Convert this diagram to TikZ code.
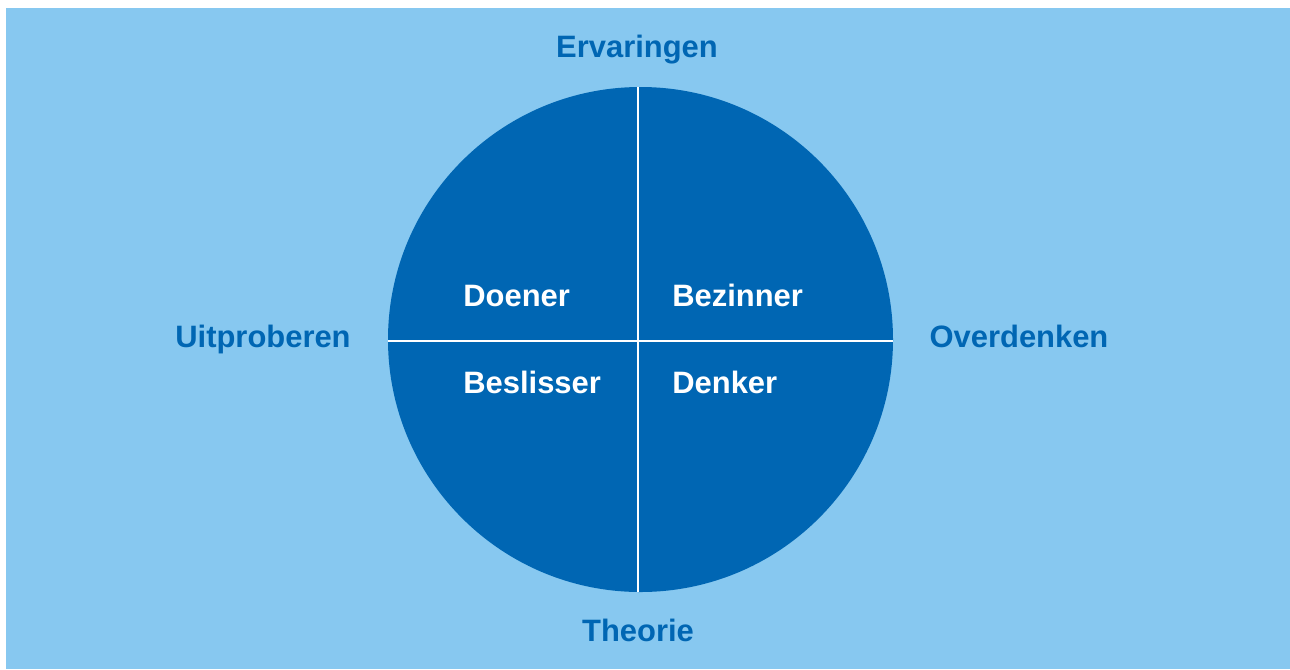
\documentclass[tikz,border=0pt]{standalone}
\usepackage{fontspec}
\setmainfont{Liberation Sans}
\usepackage{tikz}
\definecolor{lightblue}{RGB}{135,200,240}
\definecolor{darkblue}{RGB}{0,102,179}
\tikzset{
  outer/.style={anchor=base, inner sep=0pt, text=darkblue, font=\fontsize{17.6}{21}\selectfont\bfseries},
  inner/.style={anchor=base west, inner sep=0pt, text=white, font=\fontsize{17.6}{21}\selectfont\bfseries}
}

\begin{document}
\begin{tikzpicture}
      \useasboundingbox (0,0) rectangle (25.8,-13.38);
      \fill[lightblue] (0.12,-0.16) rectangle (25.8,-13.38);
      %%%%%%%%%%%%%%%%%%%%%%%%%%%%%%%%%%%%%%%%%%%%%%%
      \node[circle, fill=darkblue, minimum size=10.1cm, inner sep=0pt] at (12.81,-6.79) (wheel) {};
      \draw[white, line width=1.6pt] ([xshift=-0.05cm]wheel.north) -- ([xshift=-0.05cm]wheel.south)
            ([yshift=-0.03cm]wheel.west) -- ([yshift=-0.03cm]wheel.east);
      %%%%%%%%%%%%%%%%%%%%%%%%%%%%%%%%%%%%%%%%%%%%%%%
      \node[inner] at (9.26,-6.12)  (q1) {Doener};
      \node[inner] at (13.44,-6.12) (q2) {Bezinner};
      \node[inner] at (9.26,-7.86)  (q3) {Beslisser};
      \node[inner] at (13.44,-7.86) (q4) {Denker};
      %%%%%%%%%%%%%%%%%%%%%%%%%%%%%%%%%%%%%%%%%%%%%%%
      \node[outer] at (12.74,-1.14)  (top)   {Ervaringen};
      \node[outer] at (12.76,-12.82) (bot)   {Theorie};
      \node[outer] at (5.26,-6.94)   (left)  {Uitproberen};
      \node[outer] at (20.38,-6.94)  (right) {Overdenken};
      %%%%%%%%%%%%%%%%%%%%%%%%%%%%%%%%%%%%%%%%%%%%%%%
\end{tikzpicture}
\end{document}
